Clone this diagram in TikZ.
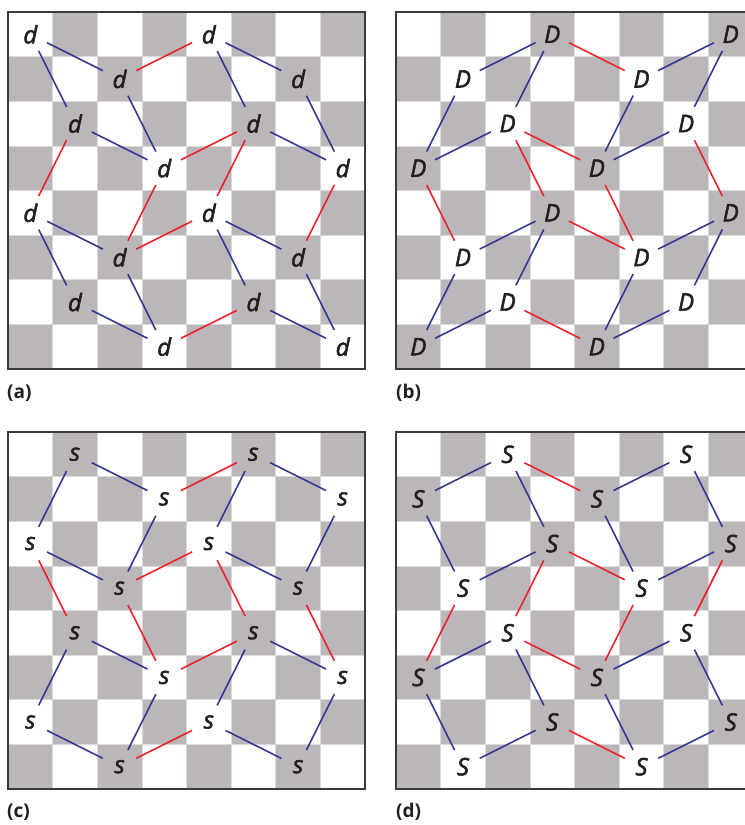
\documentclass[tikz,border=0pt]{standalone}
\usepackage{fontspec}
\newfontfamily\letterfont[FakeBold=2.2]{Open Sans}
\newfontfamily\labelfont{Open Sans}
\definecolor{chk}{HTML}{BBB6B9}
\definecolor{seam}{HTML}{DCD9DB}
\definecolor{bluec}{HTML}{34368F}
\definecolor{redc}{HTML}{EC2129}
\definecolor{txt}{HTML}{231F20}
\definecolor{frame}{HTML}{3A3A3A}
\def\sq{44.625}
\newcommand\drawboard[2]{%
  \foreach \i in {0,...,7}{\foreach \j in {0,...,7}{%
    \pgfmathtruncatemacro\myparity{mod(\i+\j,2)}%
    \ifnum\myparity=1 \fill[chk] ({#1+\i*\sq},{#2+\j*\sq}) rectangle ++(\sq,\sq);\fi}}%
  \foreach \k in {1,...,7}{%
    \draw[seam,line width=0.7bp] ({#1+\k*\sq},#2) -- ++(0,8*\sq);
    \draw[seam,line width=0.7bp] (#1,{#2+\k*\sq}) -- ++(8*\sq,0);}%
  \draw[frame,line width=1.5bp] (#1,#2) rectangle ++(8*\sq,8*\sq);}
\newcommand\pn[4]{\node[pt] (#1#2#3) at ({\ox+(#2+0.5)*\sq},{\oy+(#3+0.5)*\sq}) {#4};}
\begin{document}
\begin{tikzpicture}[x=1bp,y=-1bp,
  pt/.style={circle,minimum size=37bp,inner sep=0pt,text=txt,
    font=\letterfont\itshape\fontsize{24bp}{24bp}\selectfont},
  bl/.style={draw=bluec,line width=1.6bp},
  rd/.style={draw=redc,line width=1.6bp},
  lab/.style={anchor=west,inner sep=0pt,text=txt,
    font=\labelfont\bfseries\fontsize{19bp}{19bp}\selectfont}]
\clip (0,0) rectangle (745,825);
\fill[white] (0,0) rectangle (745,825);
\drawboard{8}{12}
\drawboard{396}{12}
\drawboard{8}{432}
\drawboard{396}{432}
% panel a
\def\ox{8}\def\oy{12}
\foreach \c/\r in {0/0,2/1,4/0,6/1,1/2,5/2,3/3,7/3,0/4,4/4,2/5,6/5,1/6,5/6,3/7,7/7}{\pn{a}{\c}{\r}{d}}
\foreach \p/\q in {00/21,00/12,21/33,12/33,40/61,40/52,61/73,52/73,04/25,04/16,25/37,16/37,44/65,44/56,65/77,56/77}{\draw[bl] (a\p) -- (a\q);}
\foreach \p/\q in {21/40,12/04,33/52,33/25,52/44,25/44,73/65,37/56}{\draw[rd] (a\p) -- (a\q);}
% panel b
\def\ox{396}\def\oy{12}
\foreach \c/\r in {3/0,1/1,2/2,0/3,7/0,5/1,6/2,4/3,3/4,7/4,1/5,5/5,2/6,6/6,0/7,4/7}{\pn{b}{\c}{\r}{D}}
\foreach \p/\q in {30/11,30/22,11/03,22/03,70/51,70/62,51/43,62/43,34/15,34/26,15/07,26/07,74/55,74/66,55/47,66/47}{\draw[bl] (b\p) -- (b\q);}
\foreach \p/\q in {30/51,22/43,22/34,03/15,62/74,43/55,34/55,26/47}{\draw[rd] (b\p) -- (b\q);}
% panel c
\def\ox{8}\def\oy{432}
\foreach \c/\r in {1/0,3/1,5/0,7/1,0/2,4/2,2/3,6/3,1/4,5/4,3/5,7/5,0/6,4/6,2/7,6/7}{\pn{c}{\c}{\r}{s}}
\foreach \p/\q in {10/31,10/02,31/23,02/23,50/71,50/42,71/63,42/63,14/35,14/06,35/27,06/27,54/75,54/46,75/67,46/67}{\draw[bl] (c\p) -- (c\q);}
\foreach \p/\q in {31/50,02/14,23/42,23/35,42/54,35/54,63/75,27/46}{\draw[rd] (c\p) -- (c\q);}
% panel d
\def\ox{396}\def\oy{432}
\foreach \c/\r in {2/0,0/1,4/1,6/0,3/2,7/2,1/3,5/3,2/4,6/4,0/5,4/5,3/6,7/6,1/7,5/7}{\pn{d}{\c}{\r}{S}}
\foreach \p/\q in {20/01,20/32,01/13,32/13,60/41,60/72,41/53,72/53,24/05,24/36,05/17,36/17,64/45,64/76,45/57,76/57}{\draw[bl] (d\p) -- (d\q);}
\foreach \p/\q in {20/41,32/53,32/24,13/05,72/64,53/45,24/45,36/57}{\draw[rd] (d\p) -- (d\q);}
% labels
\node[lab] (la) at (7,393) {(a)};
\node[lab] (lb) at (396,393) {(b)};
\node[lab] (lc) at (7,812) {(c)};
\node[lab] (ld) at (396,812) {(d)};
\end{tikzpicture}
\end{document}
